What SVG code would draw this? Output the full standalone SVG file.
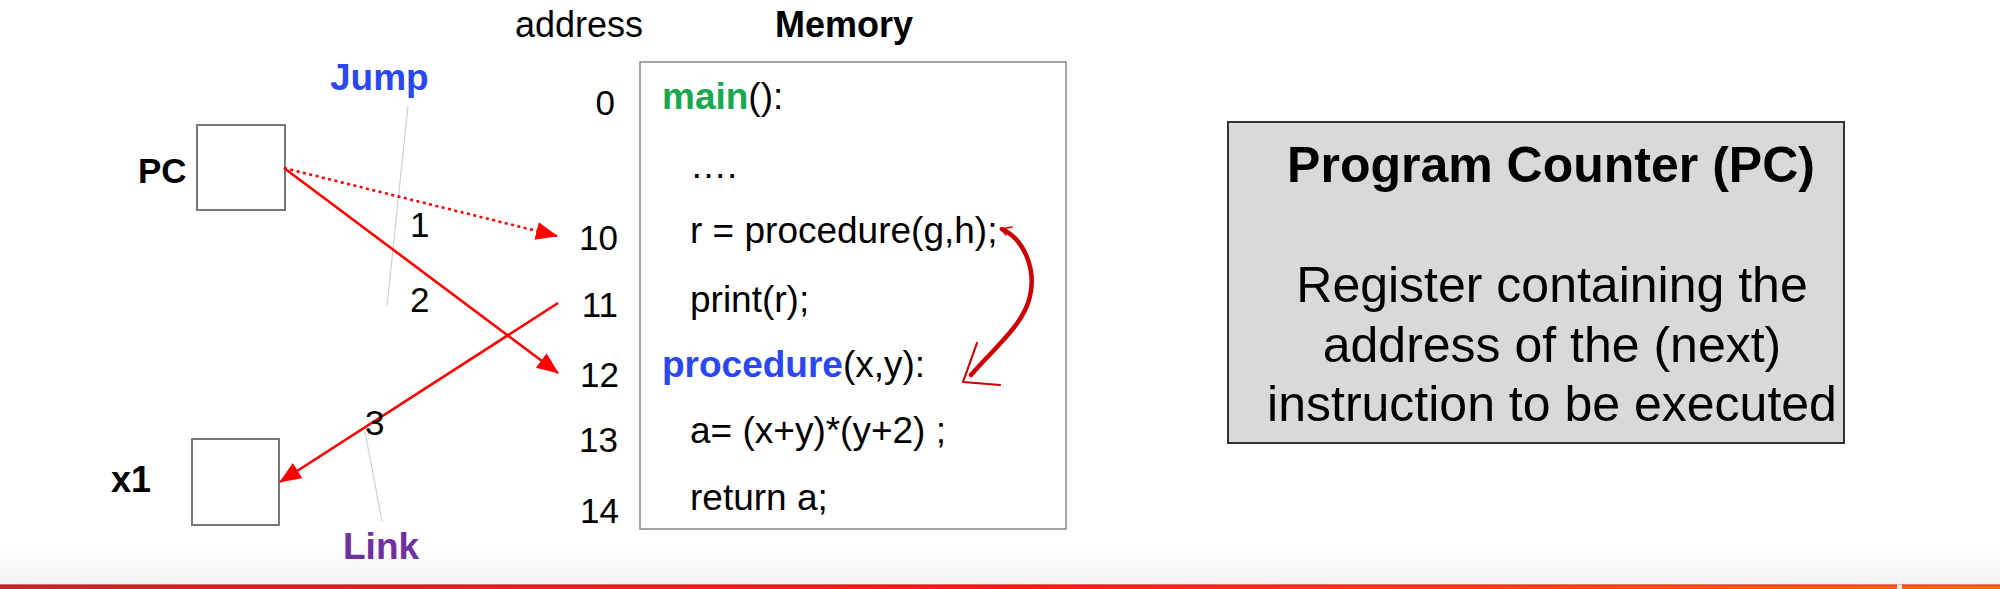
<svg xmlns="http://www.w3.org/2000/svg" width="2000" height="589" viewBox="0 0 2000 589">
<style>
text{font-family:"Liberation Sans",Arial,Helvetica,sans-serif;fill:#000}
.lbl{font-size:36px;font-weight:bold}
.num{font-size:35px;text-anchor:end}
.code{font-size:37px}
.step{font-size:35px}
.b{font-weight:bold}
.reg{fill:#fff;stroke:#777;stroke-width:2}
.lead{stroke:#cfcfcf;stroke-width:1.2;fill:none}
.arr{stroke:#ff0000;stroke-width:2.6;fill:none}
.info{font-size:50px;text-anchor:middle}
</style>
<defs>
<marker id="ah" markerUnits="userSpaceOnUse" markerWidth="24" markerHeight="20" refX="21" refY="9" orient="auto">
<path d="M0,0 L22,9 L0,18 Z" fill="#ff0000"/>
</marker>
<linearGradient id="bar" x1="0" y1="0" x2="1" y2="0">
<stop offset="0" stop-color="#c42a2a"/>
<stop offset="0.5" stop-color="#ff1a1a"/>
<stop offset="1" stop-color="#ff6a1a"/>
</linearGradient>
<linearGradient id="fade" x1="0" y1="0" x2="0" y2="1">
<stop offset="0" stop-color="#ffffff"/>
<stop offset="1" stop-color="#f3f3f3"/>
</linearGradient>
</defs>
<rect width="2000" height="589" fill="#fff"/>
<rect x="0" y="545" width="2000" height="40" fill="url(#fade)"/>
<rect x="0" y="584.5" width="2000" height="4.5" fill="url(#bar)"/>
<rect x="0" y="584.5" width="2000" height="1.2" fill="#b01010" opacity="0.5"/>
<rect x="1897" y="584.5" width="5" height="4.5" fill="#e8e8e8"/>

<g id="pc">
<text class="lbl" x="138" y="183" style="font-size:35px">PC</text>
<rect class="reg" x="197" y="125" width="88" height="85"/>
</g>
<g id="x1">
<text class="lbl" x="111" y="492">x1</text>
<rect class="reg" x="192" y="439" width="87" height="86"/>
</g>
<g id="jump">
<text class="lbl" x="330" y="90" style="fill:#2a48f2;font-size:37px">Jump</text>
<line class="lead" x1="408" y1="106" x2="387" y2="306"/>
</g>
<g id="link">
<text class="lbl" x="343" y="559" style="fill:#7030a0;font-size:37px">Link</text>
<line class="lead" x1="365" y1="432" x2="382" y2="521"/>
</g>

<g id="addresses">
<text x="515" y="37" style="font-size:36px">address</text>
<text class="num" x="615" y="115">0</text>
<text class="num" x="618" y="250">10</text>
<text class="num" x="618" y="317">11</text>
<text class="num" x="619" y="387">12</text>
<text class="num" x="618" y="452">13</text>
<text class="num" x="619" y="523">14</text>
</g>

<g id="memory">
<text x="775" y="37" class="b" style="font-size:36px">Memory</text>
<rect x="640" y="62" width="426" height="467" fill="#fff" stroke="#888" stroke-width="1.5"/>
<text class="code" x="662" y="109"><tspan class="b" style="fill:#18a84f">main</tspan>():</text>
<text class="code" x="690" y="178">….</text>
<text class="code" x="690" y="243">r = procedure(g,h);</text>
<text class="code" x="690" y="312">print(r);</text>
<text class="code" x="662" y="377"><tspan class="b" style="fill:#2a48f2">procedure</tspan>(x,y):</text>
<text class="code" x="690" y="443">a= (x+y)*(y+2) ;</text>
<text class="code" x="690" y="510">return a;</text>
</g>

<g id="info">
<rect x="1228" y="122" width="616" height="321" fill="#d9d9d9" stroke="#333" stroke-width="2"/>
<text class="info b" x="1551" y="182">Program Counter (PC)</text>
<text class="info" x="1552" y="302">Register containing the</text>
<text class="info" x="1552" y="362">address of the (next)</text>
<text class="info" x="1552" y="421">instruction to be executed</text>
</g>

<g id="connectors">
<line class="arr" x1="284" y1="168" x2="557" y2="236" stroke-dasharray="3 3.5" marker-end="url(#ah)"/>
<line class="arr" x1="284" y1="168" x2="558" y2="373" marker-end="url(#ah)"/>
<line class="arr" x1="558" y1="303" x2="280" y2="482" marker-end="url(#ah)"/>
<text class="step" x="410" y="237">1</text>
<text class="step" x="410" y="312">2</text>
<text class="step" x="365" y="435">3</text>
<path d="M1002,229 C1025,240 1036,270 1030,296 C1024,325 992,350 971,375" fill="none" stroke="#cc0000" stroke-width="4.5" stroke-linecap="round"/>
<path d="M1012,227 L1001,229 L1006,235" fill="none" stroke="#cc0000" stroke-width="1.6" stroke-linecap="round"/>
<path d="M977,343 L963,382 L1000,385" fill="none" stroke="#cc0000" stroke-width="2.2" stroke-linecap="round" stroke-linejoin="round"/>
</g>
</svg>
